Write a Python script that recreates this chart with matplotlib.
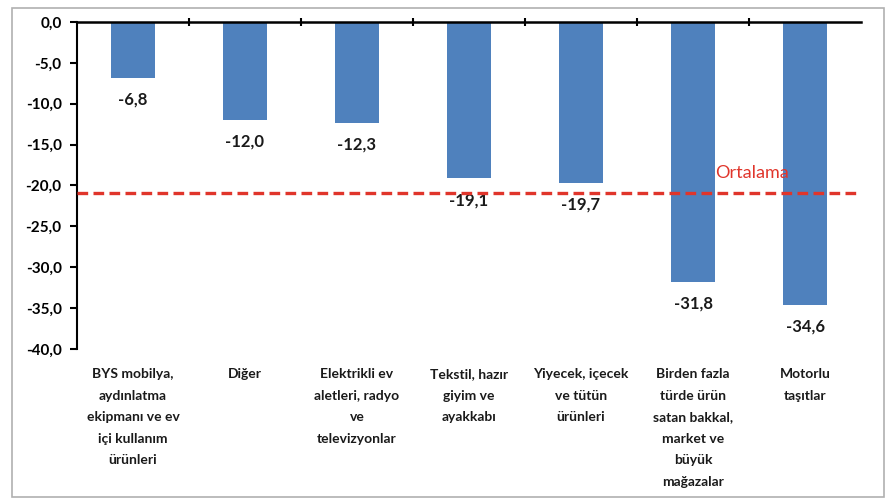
import matplotlib

matplotlib.use("Agg")
import matplotlib.pyplot as plt
from matplotlib.patches import Rectangle
from matplotlib.ticker import FuncFormatter
import numpy as np

plt.rcParams["font.family"] = ["Lato", "DejaVu Sans"]

CATEGORIES = [
    "BYS mobilya,\naydınlatma\nekipmanı ve ev\niçi kullanım\nürünleri",
    "Diğer",
    "Elektrikli ev\naletleri, radyo\nve\ntelevizyonlar",
    "Tekstil, hazır\ngiyim ve\nayakkabı",
    "Yiyecek, içecek\nve tütün\nürünleri",
    "Birden fazla\ntürde ürün\nsatan bakkal,\nmarket ve\nbüyük\nmağazalar",
    "Motorlu\ntaşıtlar",
]
VALUES = [-6.8, -12.0, -12.3, -19.1, -19.7, -31.8, -34.6]
AVERAGE = -20.9
AVERAGE_LABEL = "Ortalama"

BAR_COLOR = "#4f81bd"
AVG_COLOR = "#e0352b"


def comma(v, _pos=None):
    return f"{v:.1f}".replace(".", ",")


fig = plt.figure(figsize=(8.87, 5.01), dpi=100)
ax = fig.add_axes([0.0868, 0.3034, 0.8839, 0.6527])

x = np.arange(len(CATEGORIES))
bars = ax.bar(x, VALUES, width=0.4, color=BAR_COLOR, zorder=2)
for bar, v in zip(bars, VALUES):
    ax.annotate(
        comma(v),
        (bar.get_x() + bar.get_width() / 2, v),
        xytext=(0, -10),
        textcoords="offset points",
        ha="center",
        va="top",
        fontsize=12,
        fontweight="bold",
        color="#1a1a1a",
    )

ax.axhline(AVERAGE, xmin=0, xmax=0.995, color=AVG_COLOR, lw=2.4,
           linestyle=(0, (3.2, 1.6)), zorder=3)
ax.text(5.53, AVERAGE + 1.5, AVERAGE_LABEL, color=AVG_COLOR, fontsize=13,
        ha="center", va="bottom")

ax.set_xlim(-0.5, len(CATEGORIES) - 0.5)
ax.set_ylim(-40, 0)
ax.set_yticks(np.arange(-40, 1, 5))
ax.yaxis.set_major_formatter(FuncFormatter(comma))

ax.set_xticks(x)
ax.set_xticklabels(CATEGORIES, fontsize=10, fontweight="bold", linespacing=1.95,
                   color="#1a1a1a")
ax.set_xticks(x[:-1] + 0.5, minor=True)
ax.tick_params(axis="x", which="major", length=0, pad=14, bottom=True, top=False)
ax.tick_params(axis="x", which="minor", top=True, bottom=False, direction="inout", length=6,
               width=1.5)
ax.tick_params(axis="y", direction="out", length=5, width=1.5, labelsize=11, pad=6)
for lab in ax.get_yticklabels():
    lab.set_fontweight("bold")

for side in ("right", "bottom"):
    ax.spines[side].set_visible(False)
ax.spines["top"].set_linewidth(1.8)
ax.spines["left"].set_linewidth(1.5)

fig.patches.append(Rectangle((12 / 887, 4 / 501), 872 / 887, 489 / 501,
                             transform=fig.transFigure, fill=False,
                             edgecolor="#b0b0b0", lw=1.2))

fig.savefig("out.png", dpi=100)
